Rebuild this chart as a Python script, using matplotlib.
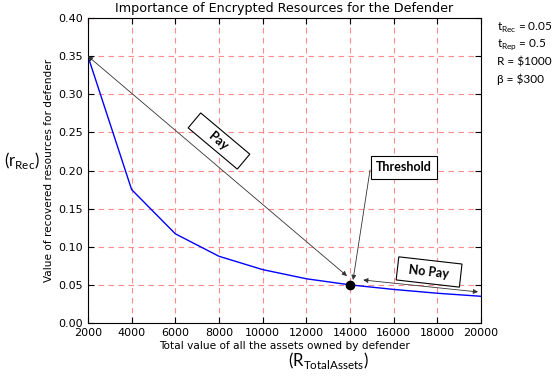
import matplotlib
matplotlib.use('Agg')
import matplotlib.pyplot as plt

# values
total_assets = [2000, 4000, 6000, 8000, 10000, 12000, 14000, 16000, 18000, 20000]
recovered = [0.35, 0.175, 0.117, 0.0875, 0.07, 0.058, 0.05, 0.044, 0.039, 0.035]
threshold_x, threshold_y = 14000, 0.05
x_ticks = [2000, 4000, 6000, 8000, 10000, 12000, 14000, 16000, 18000, 20000]
y_ticks = [0.00, 0.05, 0.10, 0.15, 0.20, 0.25, 0.30, 0.35, 0.40]
params = ['t$_{\\mathregular{Rec}}$ = 0.05', 't$_{\\mathregular{Rep}}$ = 0.5',
          'R = $1000', 'β = $300']

NOTE_FONT = ['Lato', 'DejaVu Sans']

fig = plt.figure(figsize=(5.53, 3.76), dpi=100)
ax = fig.add_axes([0.159, 0.141, 0.711, 0.811])

ax.plot(total_assets, recovered, color='blue', linewidth=1)
ax.plot([threshold_x], [threshold_y], 'o', color='black', markersize=6, zorder=5)

ax.set_xlim(2000, 20000)
ax.set_ylim(0, 0.4)
ax.set_xticks(x_ticks)
ax.set_yticks(y_ticks)
ax.set_yticklabels([f'{v:.2f}' for v in y_ticks])
ax.tick_params(direction='in', top=True, right=True, labelsize=8, length=4)
ax.grid(True, color='#ff7070', linestyle=(0, (5, 4)), linewidth=0.8, alpha=0.8)

ax.set_title('Importance of Encrypted Resources for the Defender', fontsize=9.2, pad=4)
ax.set_xlabel('Total value of all the assets owned by defender', fontsize=7.6, labelpad=2)
ax.set_ylabel('Value of recovered resources for defender', fontsize=7.6, labelpad=3)

arrow = dict(arrowstyle='<|-|>', color='#333333', linewidth=0.6, shrinkA=0, shrinkB=0,
             mutation_scale=7)

# Pay arrow
ax.annotate('', xy=(2000, 0.35), xytext=(13860, 0.0616), arrowprops=arrow)
ax.text(8000, 0.2387, '      Pay      ', rotation=-40, ha='center', va='center', fontsize=9,
        fontweight='bold', family=NOTE_FONT, rotation_mode='anchor',
        bbox=dict(boxstyle='square,pad=0.3', facecolor='white', edgecolor='black',
                  linewidth=0.8))

# No Pay arrow
ax.annotate('', xy=(14600, 0.0564), xytext=(19860, 0.0407), arrowprops=arrow)
ax.text(17618, 0.0669, '  No Pay  ', rotation=-6.5, ha='center', va='center', fontsize=9,
        fontweight='bold', family=NOTE_FONT, rotation_mode='anchor',
        bbox=dict(boxstyle='square,pad=0.45', facecolor='white', edgecolor='black',
                  linewidth=0.8))

# Threshold
ax.annotate('', xy=(14137, 0.0564), xytext=(14916, 0.2007),
            arrowprops=dict(arrowstyle='-|>', color='#333333', linewidth=0.6,
                            shrinkA=0, shrinkB=0, mutation_scale=7))
ax.text(16473, 0.204, 'Threshold', ha='center', va='center', fontsize=9,
        fontweight='bold', family=NOTE_FONT,
        bbox=dict(boxstyle='square,pad=0.42', facecolor='white', edgecolor='black',
                  linewidth=0.8))

# outside notes
fig.text(0.04, 0.572, '(r$_{\\mathregular{Rec}}$)', fontsize=12, family=NOTE_FONT,
         ha='center', va='center')
fig.text(0.593, 0.04, '(R$_{\\mathregular{TotalAssets}}$)', fontsize=12, family=NOTE_FONT,
         ha='center', va='center')
for i, p in enumerate(params):
    fig.text(0.898, 0.925 - i * 0.045, p, fontsize=8.5, family=NOTE_FONT,
             ha='left', va='center')

fig.savefig('out.png', dpi=100)
